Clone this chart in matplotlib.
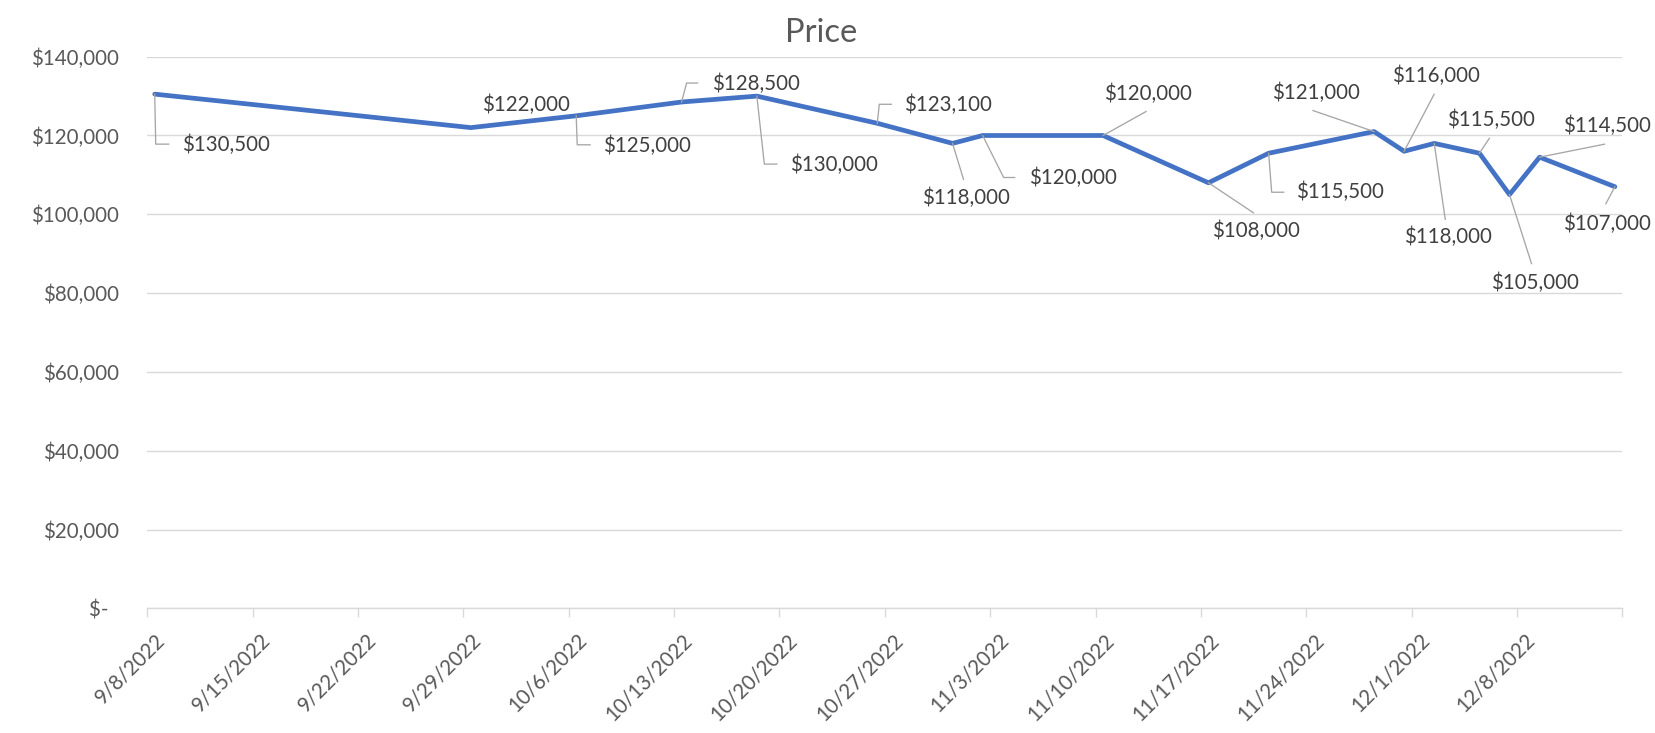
import datetime as dt
import matplotlib
matplotlib.use("Agg")
import matplotlib.pyplot as plt
import matplotlib.dates as mdates
from matplotlib.ticker import FixedLocator, FuncFormatter
from matplotlib.lines import Line2D
from matplotlib.transforms import IdentityTransform, ScaledTranslation

# ---------------- data ----------------
dates = ["2022-09-08", "2022-09-29", "2022-10-06", "2022-10-13", "2022-10-18",
         "2022-10-26", "2022-10-31", "2022-11-02", "2022-11-10", "2022-11-17",
         "2022-11-21", "2022-11-28", "2022-11-30", "2022-12-02", "2022-12-05",
         "2022-12-07", "2022-12-09", "2022-12-14"]
prices = [130500, 122000, 125000, 128500, 130000, 123100, 118000, 120000, 120000,
          108000, 115500, 121000, 116000, 118000, 115500, 105000, 114500, 107000]
y_ticks = [0, 20000, 40000, 60000, 80000, 100000, 120000, 140000]
title = "Price"

# label layout (pixel offsets from the point, y down): label centre, leader path
label_offsets = [(71, 51), (55, -23), (71, 30), (74, -18), (77, 69), (71, -18),
                 (13, 55), (90, 42), (45, -42), (48, 48), (71, 39), (-58, -39),
                 (32, -75), (14, 94), (12, -33), (25, 88), (67, -31), (-8, 37)]
leader_paths = [[(1, 50), (14, 50)], None, [(1, 29), (14, 29)], [(5, -19), (16, -19)],
                [(7.5, 68), (20, 68)], [(2, -19), (14, -19)], [(11, 36)],
                [(21, 42), (32, 42)], [(43, -24)], [(45, 30)], [(3, 39), (15, 39)],
                [(-61, -21)], [(30, -57)], [(11, 76)], [(10, -15)], [(22, 69)],
                [(65, -13)], [(-9, 17)]]

W, H, DPI = 1656, 733, 100
FONT = ["Lato", "DejaVu Sans"]
plt.rcParams["font.family"] = FONT
FS = 14.8

fig = plt.figure(figsize=(W / DPI, H / DPI), dpi=DPI)
ax = fig.add_axes([147.2 / W, (H - 608.3) / H, 1475.2 / W, 551.6 / H])

d = [dt.datetime.strptime(s, "%Y-%m-%d") for s in dates]
x = [mdates.date2num(v) + 0.5 for v in d]
x0 = mdates.date2num(dt.datetime(2022, 9, 8))
x1 = mdates.date2num(dt.datetime(2022, 12, 15))

ax.plot(x, prices, color="#4472C4", lw=3.4, solid_joinstyle="round",
        solid_capstyle="round", zorder=3)

ax.set_xlim(x0, x1)
ax.set_ylim(0, 140000)

# y axis
ax.yaxis.set_major_locator(FixedLocator(y_ticks))
ax.yaxis.set_major_formatter(FuncFormatter(lambda v, p: "$-  " if v == 0 else f"${int(v):,}"))
ax.tick_params(axis="y", length=0, pad=20.5, labelsize=FS, labelcolor="#595959")
ax.grid(axis="y", color="#D9D9D9", lw=1.0)
ax.set_axisbelow(True)

# x axis
xt = [x0 + 7 * i for i in range(15)]
ax.xaxis.set_major_locator(FixedLocator(xt))
def xfmt(v, p):
    dd = mdates.num2date(v)
    if v > x1 - 1:
        return ""
    return f"{dd.month}/{dd.day}/{dd.year}"
ax.xaxis.set_major_formatter(FuncFormatter(xfmt))
ax.tick_params(axis="x", length=6.5, width=1.0, color="#D9D9D9", direction="out",
               pad=14, labelsize=FS, labelcolor="#595959")
for lbl in ax.get_xticklabels():
    lbl.set_rotation(45)
    lbl.set_ha("right")
    lbl.set_va("center")
    lbl.set_rotation_mode("anchor")
    lbl.set_transform(lbl.get_transform() + ScaledTranslation(15 / DPI, 0, fig.dpi_scale_trans))

for s in ["top", "right", "left"]:
    ax.spines[s].set_visible(False)
ax.spines["bottom"].set_color("#D9D9D9")
ax.spines["bottom"].set_linewidth(1.0)

# title
fig.text(821 / W, 1 - 41.7 / H, title, ha="center", va="baseline",
         fontsize=23.5, color="#595959")

# data labels + leader lines
for xi, yi, val, off, path in zip(x, prices, prices, label_offsets, leader_paths):
    ax.annotate(f"${val:,}", xy=(xi, yi), xytext=(off[0], -off[1]),
                textcoords="offset pixels", ha="center", va="center",
                fontsize=FS, color="#404040", zorder=5)
    if path:
        px, py = ax.transData.transform((xi, yi))
        xs = [px] + [px + a for a, b in path]
        ys = [py] + [py - b for a, b in path]
        fig.add_artist(Line2D(xs, ys, transform=IdentityTransform(),
                              color="#A6A6A6", lw=0.95, zorder=4))

fig.savefig("out.png", dpi=DPI, facecolor="white")
